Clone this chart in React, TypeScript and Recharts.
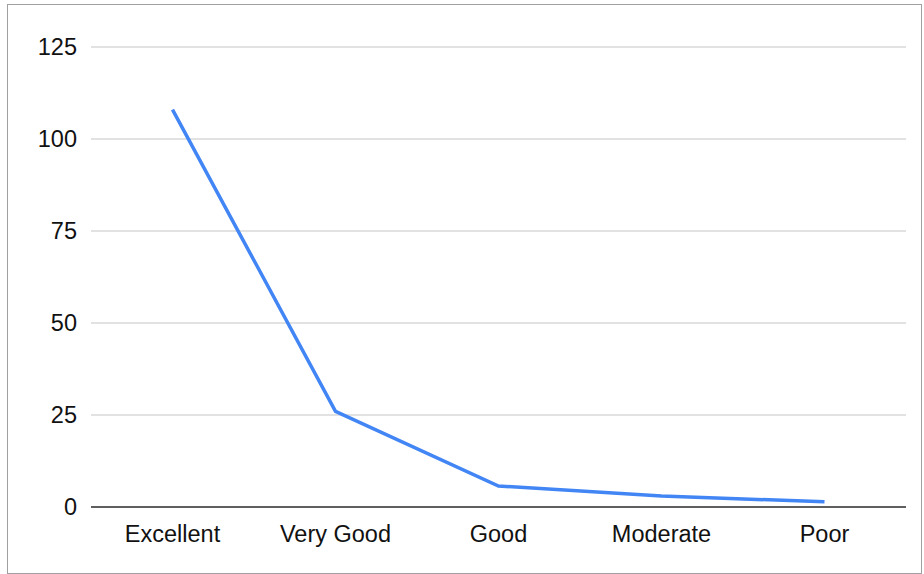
import { LineChart, Line, XAxis, YAxis, CartesianGrid } from 'recharts';

const categories = ['Excellent', 'Very Good', 'Good', 'Moderate', 'Poor'];
const counts = [108, 26, 5.7, 3, 1.4];
const yTicks = [0, 25, 50, 75, 100, 125];

const data = categories.map((name, i) => ({ name, value: counts[i] }));

const FONT = '"Liberation Sans", Arial, sans-serif';

export default function App() {
  return (
    <div style={{ position: 'absolute', left: 0, top: 0, width: 924, height: 574, background: '#fff' }}>
      <div
        style={{
          position: 'absolute',
          left: 7,
          top: 4,
          width: 913,
          height: 568,
          border: '1px solid #a0a0a0',
        }}
      />
      <div style={{ position: 'absolute', left: 0, top: 0 }}>
        <LineChart
          width={924}
          height={574}
          data={data}
          margin={{ top: 47, right: 18, bottom: 0, left: 31 }}
        >
          <CartesianGrid vertical={false} stroke="#c6c6c6" strokeWidth={1.2} />
          <XAxis
            dataKey="name"
            scale="band"
            height={67}
            tickLine={false}
            axisLine={{ stroke: '#333333', strokeWidth: 1.5 }}
            tickMargin={12}
            tick={{ fontSize: 23.5, fill: '#111', fontFamily: FONT }}
          />
          <YAxis
            type="number"
            domain={[0, 125]}
            ticks={yTicks}
            width={60}
            axisLine={false}
            tickLine={false}
            tickMargin={8}
            tick={{ fontSize: 23.5, fill: '#111', fontFamily: FONT }}
          />
          <Line
            type="linear"
            dataKey="value"
            stroke="#4285f4"
            strokeWidth={3.5}
            dot={false}
            activeDot={false}
            isAnimationActive={false}
          />
        </LineChart>
      </div>
    </div>
  );
}
